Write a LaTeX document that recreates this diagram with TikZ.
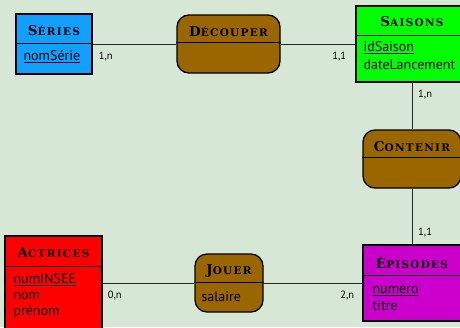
\documentclass[tikz,border=0pt]{standalone}
\usepackage{fontspec}
\setmainfont{PT Sans}
\newfontfamily\titlefont[LetterSpace=12]{DejaVu Serif}
\usetikzlibrary{calc}

\definecolor{bgc}{RGB}{214,232,213}
\definecolor{serblue}{RGB}{18,160,255}
\definecolor{saigreen}{RGB}{0,255,0}
\definecolor{actred}{RGB}{255,0,0}
\definecolor{epimag}{RGB}{204,0,204}
\definecolor{assbrown}{RGB}{153,102,0}

% title in caps, first letter larger
\newcommand{\ttl}[2]{{\titlefont\bfseries\fontsize{13.5}{14}\selectfont #1\fontsize{10.5}{12}\selectfont #2}}

\begin{document}
\begin{tikzpicture}[x=1pt,y=-1pt,
  entity/.style={draw=black, line width=1.3pt, inner sep=0pt},
  assoc/.style={draw=black, line width=1.3pt, inner sep=0pt, rounded corners=12pt, fill=assbrown},
  sepline/.style={draw=black, line width=1.1pt},
  link/.style={draw=black!85, line width=0.9pt},
  attr/.style={anchor=west, inner sep=0pt, font=\fontsize{14}{16}\selectfont},
  card/.style={inner sep=0pt, font=\fontsize{10.5}{11}\selectfont},
  title/.style={inner sep=0pt}]

\useasboundingbox (0,0) rectangle (460,327);
\clip (0,0) rectangle (460,327);
\fill[bgc] (0,0) rectangle (460,327);

% entities and associations
\node[entity, fill=serblue, minimum width=76pt, minimum height=60pt] (series) at (54,44) {};
\node[assoc, minimum width=103pt, minimum height=58pt] (decouper) at (228.5,44) {};
\node[entity, fill=saigreen, minimum width=112pt, minimum height=76pt] (saisons) at (412,44) {};
\node[assoc, minimum width=98pt, minimum height=58pt] (contenir) at (412,159) {};
\node[entity, fill=epimag, minimum width=98pt, minimum height=76pt] (episodes) at (412,283) {};
\node[assoc, minimum width=68pt, minimum height=58pt] (jouer) at (229,283) {};
\node[entity, fill=actred, minimum width=97pt, minimum height=94pt] (actrices) at (53.5,283) {};

% links
\draw[link] (series) -- (decouper);
\draw[link] (decouper) -- (saisons);
\draw[link] (saisons) -- (contenir);
\draw[link] (contenir) -- (episodes);
\draw[link] (actrices) -- (jouer);
\draw[link] (jouer) -- (episodes);

% separators
\draw[sepline] ($(series.north west)+(0,30)$) -- ($(series.north east)+(0,30)$);
\draw[sepline] ($(decouper.north west)+(0,28)$) -- ($(decouper.north east)+(0,28)$);
\draw[sepline] ($(saisons.north west)+(0,30)$) -- ($(saisons.north east)+(0,30)$);
\draw[sepline] ($(contenir.north west)+(0,28)$) -- ($(contenir.north east)+(0,28)$);
\draw[sepline] ($(episodes.north west)+(0,31)$) -- ($(episodes.north east)+(0,31)$);
\draw[sepline] ($(jouer.north west)+(0,29)$) -- ($(jouer.north east)+(0,29)$);
\draw[sepline] ($(actrices.north west)+(0,31)$) -- ($(actrices.north east)+(0,31)$);

% titles
\node[title] (tser) at ($(series.north)+(0,17)$) {\ttl{S}{ÉRIES}};
\node[title] (tdec) at ($(decouper.north)+(0,17)$) {\ttl{D}{ÉCOUPER}};
\node[title] (tsai) at ($(saisons.north)+(0,16)$) {\ttl{S}{AISONS}};
\node[title] (tcon) at ($(contenir.north)+(0,17)$) {\ttl{C}{ONTENIR}};
\node[title] (tepi) at ($(episodes.north)+(0,18)$) {\ttl{É}{PISODES}};
\node[title] (tjou) at ($(jouer.north)+(0,18)$) {\ttl{J}{OUER}};
\node[title] (tact) at ($(actrices.north)+(0,17)$) {\ttl{A}{CTRICES}};

% attributes
\node[attr] (aser1) at ($(series.north west)+(8,43)$) {\underline{nomSérie}};
\node[attr] (asai1) at ($(saisons.north west)+(8,42)$) {\underline{idSaison}};
\node[attr] (asai2) at ($(saisons.north west)+(8,59)$) {dateLancement};
\node[attr] (aepi1) at ($(episodes.north west)+(10,45)$) {\underline{numéro}};
\node[attr] (aepi2) at ($(episodes.north west)+(10,61)$) {titre};
\node[attr] (ajou1) at ($(jouer.north west)+(7,43)$) {salaire};
\node[attr] (aact1) at ($(actrices.north west)+(9,44)$) {\underline{numINSEE}};
\node[attr] (aact2) at ($(actrices.north west)+(9,61)$) {nom};
\node[attr] (aact3) at ($(actrices.north west)+(9,77)$) {prénom};

% cardinalities
\node[card, anchor=west] (c1) at ($(series.east)+(6,13)$) {1,n};
\node[card, anchor=east] (c2) at ($(saisons.west)+(-9,13)$) {1,1};
\node[card, anchor=west] (c3) at ($(saisons.south)+(6,12)$) {1,n};
\node[card, anchor=west] (c4) at ($(episodes.north)+(6,-12)$) {1,1};
\node[card, anchor=west] (c5) at ($(actrices.east)+(5,13)$) {0,n};
\node[card, anchor=east] (c6) at ($(episodes.west)+(-8,13)$) {2,n};
\end{tikzpicture}
\end{document}
